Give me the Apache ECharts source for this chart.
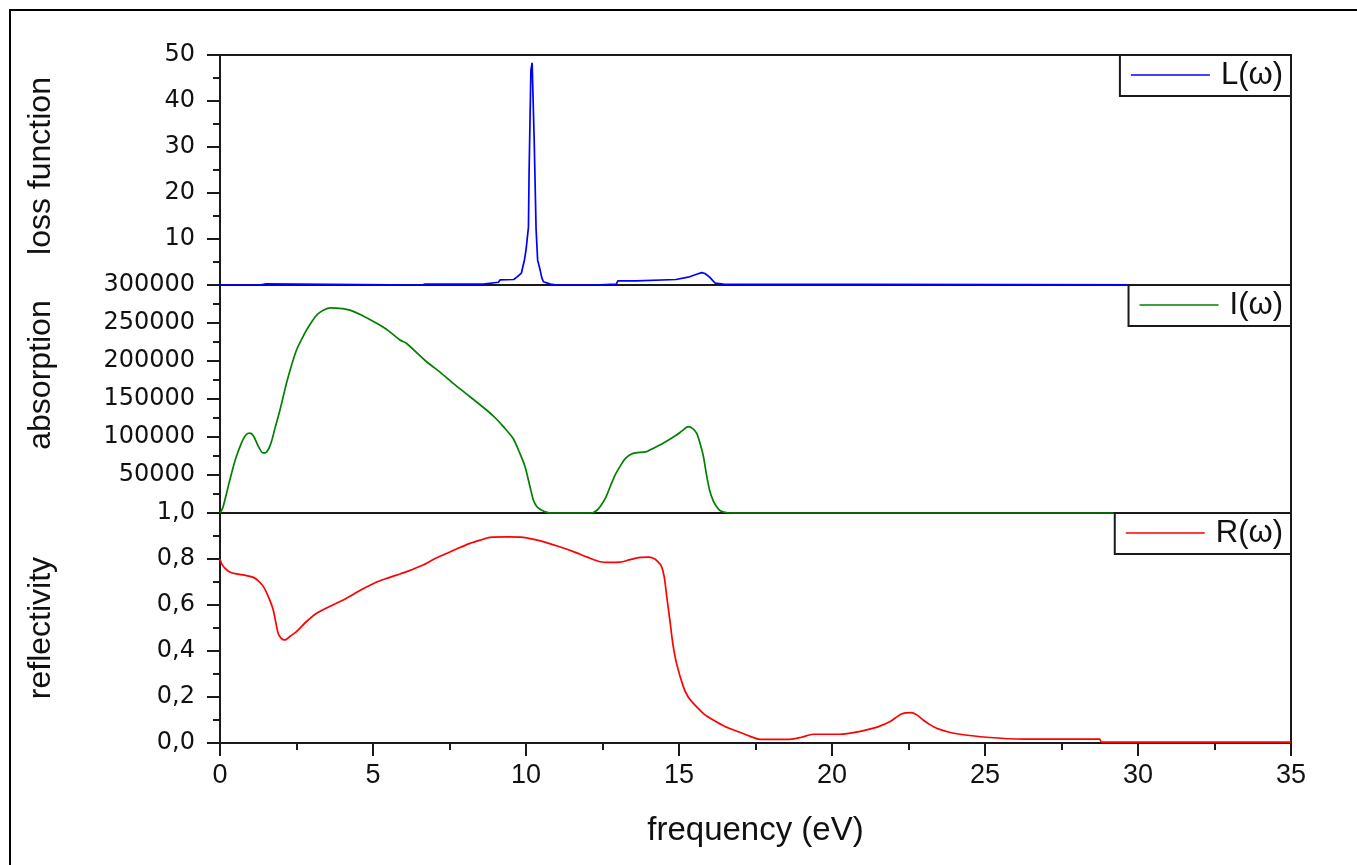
<!DOCTYPE html>
<html>
<head>
<meta charset="utf-8">
<script src="https://cdn.jsdelivr.net/npm/echarts@6/dist/echarts.min.js"></script>
<style>
html,body{margin:0;padding:0;background:#fff;}
#chart{width:1357px;height:865px;}
</style>
</head>
<body>
<div id="chart"></div>
<script>
// ---- Data ----
const xTicks = [0, 5, 10, 15, 20, 25, 30, 35];

const lossX = [0, 1.3, 1.35, 1.5, 1.55, 6.6, 6.7, 8.6, 8.65, 9.1, 9.15, 9.6, 9.7, 9.85, 9.95, 10.0, 10.08, 10.1, 10.16, 10.2, 10.24, 10.27, 10.33, 10.38, 10.46, 10.52, 10.57, 10.8, 11.0, 12.25, 12.3, 12.95, 13.0, 13.6, 13.65, 14.9, 14.95, 15.3, 15.36, 15.6, 15.74, 15.85, 16.0, 16.18, 16.45, 16.5, 35];
const lossY = [0, 0, 0.25, 0.25, 0, 0, 0.2, 0.2, 0.6, 0.6, 1.1, 1.2, 1.7, 2.6, 5.5, 7.6, 12.6, 24, 46.7, 48.3, 48, 30.8, 12, 5.4, 3.3, 1.5, 0.7, 0.2, 0, 0, 0.2, 0.2, 0.9, 0.9, 1.2, 1.2, 1.5, 1.7, 2.1, 2.4, 2.7, 2.5, 1.7, 0.4, 0.2, 0, 0];

const absX = [0, 0.1, 0.3, 0.5, 0.7, 0.85, 0.98, 1.1, 1.25, 1.4, 1.5, 1.65, 1.8, 1.96, 2.2, 2.5, 2.75, 2.94, 3.2, 3.6, 4.0, 4.25, 4.6, 5.12, 5.5, 5.88, 6.1, 6.75, 7.2, 7.62, 8.17, 8.71, 9.0, 9.26, 9.58, 9.8, 9.97, 10.13, 10.24, 10.35, 10.46, 10.6, 10.8, 12.15, 12.3, 12.42, 12.6, 12.75, 12.9, 13.07, 13.25, 13.5, 13.94, 14.2, 14.48, 14.92, 15.1, 15.3, 15.45, 15.58, 15.7, 15.8, 15.9, 16.0, 16.12, 16.23, 16.35, 16.5, 16.6, 35];
const absY = [0, 8000, 40000, 70000, 92000, 103000, 105000, 101000, 88000, 79000, 79500, 90000, 112000, 135500, 175000, 214500, 235000, 248000, 262000, 270000, 269000, 267000, 261000, 249600, 240000, 227600, 223000, 199000, 185000, 170600, 153000, 135500, 125000, 113600, 98000, 78500, 61000, 34600, 17000, 8500, 4900, 2000, 0, 0, 3000, 8300, 20000, 34600, 49000, 61000, 72000, 78500, 80700, 86000, 91700, 102600, 108000, 113600, 111000, 104800, 90000, 74000, 50000, 30000, 16000, 8300, 3000, 1000, 0, 0];

const refX = [0, 0.05, 0.16, 0.3, 0.54, 0.8, 1.09, 1.25, 1.42, 1.6, 1.74, 1.9, 2.0, 2.12, 2.3, 2.5, 2.8, 3.16, 3.6, 4.03, 4.6, 5.12, 5.5, 5.88, 6.1, 6.64, 7.0, 7.4, 7.8, 8.17, 8.5, 8.82, 9.4, 9.91, 10.3, 10.67, 11.1, 11.55, 12.0, 12.42, 12.75, 13.07, 13.4, 13.73, 14.0, 14.16, 14.3, 14.43, 14.52, 14.6, 14.7, 14.8, 14.92, 15.14, 15.3, 15.47, 15.8, 16.12, 16.5, 16.94, 17.3, 17.65, 18.63, 19.0, 19.39, 20.26, 20.7, 21.13, 21.5, 21.9, 22.27, 22.6, 22.8, 22.98, 23.2, 23.42, 23.8, 24.18, 25.05, 26.25, 28.75, 28.8, 35];
const refY = [0.80, 0.78, 0.76, 0.745, 0.735, 0.73, 0.72, 0.705, 0.68, 0.63, 0.578, 0.477, 0.455, 0.448, 0.465, 0.484, 0.525, 0.564, 0.595, 0.622, 0.665, 0.70, 0.718, 0.735, 0.745, 0.774, 0.80, 0.824, 0.848, 0.868, 0.882, 0.894, 0.896, 0.894, 0.884, 0.871, 0.853, 0.832, 0.808, 0.788, 0.785, 0.786, 0.797, 0.807, 0.808, 0.803, 0.79, 0.767, 0.72, 0.636, 0.535, 0.43, 0.346, 0.245, 0.2, 0.172, 0.128, 0.1, 0.072, 0.049, 0.03, 0.016, 0.016, 0.025, 0.038, 0.038, 0.045, 0.057, 0.07, 0.093, 0.126, 0.132, 0.12, 0.1, 0.08, 0.064, 0.048, 0.038, 0.025, 0.017, 0.017, 0.004, 0.004];

const seriesNames = ['L(ω)', 'I(ω)', 'R(ω)'];
const seriesColors = ['#0000ff', '#008000', '#ff0000'];
const yTitles = ['loss function', 'absorption', 'reflectivity'];
const xTitle = 'frequency (eV)';

// ---- Chart ----
const pairs = (xs, ys) => xs.map((x, i) => [x, ys[i]]);
const LEFT = 220, RIGHT = 66;
const axisCol = '#1a1a1a';
const tickFont = {fontFamily: 'DejaVu Sans', fontSize: 24, color: '#111'};
const titleFont = {fontFamily: 'Liberation Sans', fontSize: 32, color: '#111'};
const titleShift = [[0, 0, 0, 8], [0, 0, 0, 48], [0, 0, 0, 0]];

function xAx(idx, bottom) {
  return {
    type: 'value', gridIndex: idx, min: 0, max: 35, interval: 5,
    axisLine: {show: true, onZero: false, lineStyle: {color: axisCol, width: 2}},
    axisTick: {show: bottom, inside: false, length: 13, lineStyle: {color: axisCol, width: 2}},
    minorTick: {show: bottom, splitNumber: 2, length: 7, lineStyle: {color: axisCol, width: 2}},
    axisLabel: {show: bottom, margin: 19, fontFamily: 'Liberation Sans', fontSize: 27, color: '#111'},
    splitLine: {show: false},
    name: bottom ? xTitle : '', nameLocation: 'middle', nameGap: 71,
    nameTextStyle: {fontFamily: 'Liberation Sans', fontSize: 33, color: '#111'}
  };
}
function yAx(idx, max, interval, fmt) {
  return {
    type: 'value', gridIndex: idx, min: 0, max: max, interval: interval,
    axisLine: {show: true, onZero: false, lineStyle: {color: axisCol, width: 2}},
    axisTick: {show: true, inside: false, length: 13, lineStyle: {color: axisCol, width: 2}},
    minorTick: {show: true, splitNumber: 2, length: 7, lineStyle: {color: axisCol, width: 2}},
    axisLabel: Object.assign({margin: 25, formatter: fmt}, tickFont),
    splitLine: {show: false},
    name: yTitles[idx], nameLocation: 'middle', nameGap: 163, nameRotate: 90,
    nameTextStyle: Object.assign({padding: titleShift[idx]}, titleFont)
  };
}
function legendFor(i, top) {
  return {
    data: [seriesNames[i]], right: RIGHT, top: top, orient: 'vertical',
    backgroundColor: '#fff', borderColor: axisCol, borderWidth: 2, borderRadius: 0,
    padding: [4, 8, 5, 11], itemWidth: 79, itemHeight: 1.6, icon: 'rect',
    textStyle: {fontFamily: 'Liberation Sans', fontSize: 31, color: '#111', padding: [0, 0, 0, 6], lineHeight: 32},
    selectedMode: false
  };
}
function ser(i, xs, ys, smooth) {
  return {
    name: seriesNames[i], type: 'line', xAxisIndex: i, yAxisIndex: i,
    data: pairs(xs, ys), symbol: 'none', clip: false,
    smooth: smooth,
    lineStyle: {color: seriesColors[i], width: 1.7}, itemStyle: {color: seriesColors[i]},
    z: 3
  };
}

const chart = echarts.init(document.getElementById('chart'), null, {renderer: 'canvas'});
chart.setOption({
  animation: false,
  backgroundColor: '#fff',
  grid: [
    {left: LEFT, right: RIGHT, top: 55, height: 230, show: true, borderColor: axisCol, borderWidth: 2, backgroundColor: 'transparent'},
    {left: LEFT, right: RIGHT, top: 285, height: 228, show: true, borderColor: axisCol, borderWidth: 2, backgroundColor: 'transparent'},
    {left: LEFT, right: RIGHT, top: 513, height: 230, show: true, borderColor: axisCol, borderWidth: 2, backgroundColor: 'transparent'}
  ],
  xAxis: [xAx(0, false), xAx(1, false), xAx(2, true)],
  yAxis: [
    yAx(0, 50, 10, v => v === 0 ? '' : String(v)),
    yAx(1, 300000, 50000, v => v === 0 ? '' : String(v)),
    yAx(2, 1, 0.2, v => v.toFixed(1).replace('.', ','))
  ],
  legend: [legendFor(0, 55), legendFor(1, 285), legendFor(2, 513)],
  series: [
    ser(0, lossX, lossY, false),
    ser(1, absX, absY, 0.25),
    ser(2, refX, refY, 0.25)
  ],
  graphic: [{
    type: 'polyline', silent: true,
    shape: {points: [[10, 865], [10, 10], [1357, 10]]},
    style: {stroke: '#000', lineWidth: 2, fill: null}
  }]
});
</script>
</body>
</html>
